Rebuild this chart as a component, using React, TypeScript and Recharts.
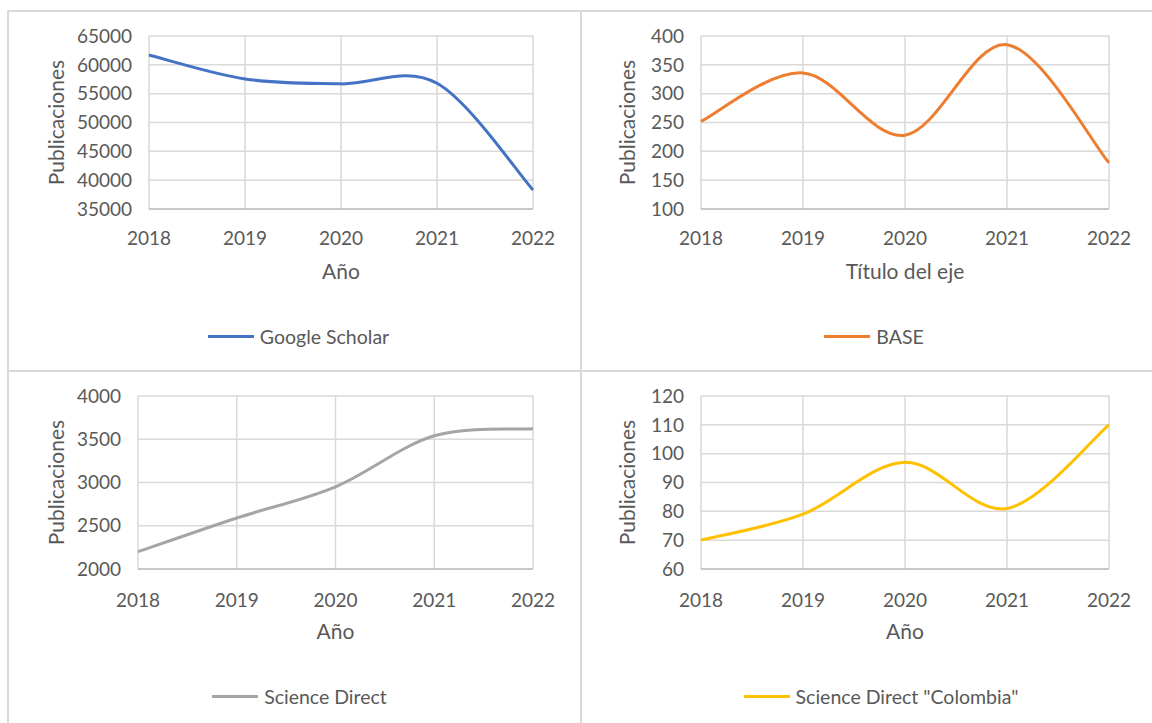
import React from 'react';
import { LineChart, Line, XAxis, YAxis, CartesianGrid, Legend } from 'recharts';

const years = ['2018', '2019', '2020', '2021', '2022'];

const googleScholar = [61700, 57550, 56700, 56800, 38300];
const base = [252, 336, 228, 385, 180];
const scienceDirect = [2200, 2590, 2950, 3540, 3620];
const scienceDirectColombia = [70, 79, 97, 81, 110];

const googleTicks = [35000, 40000, 45000, 50000, 55000, 60000, 65000];
const baseTicks = [100, 150, 200, 250, 300, 350, 400];
const scienceTicks = [2000, 2500, 3000, 3500, 4000];
const colombiaTicks = [60, 70, 80, 90, 100, 110, 120];

const FONT = 'Lato, "Open Sans", sans-serif';
const TEXT = '#595959';
const GRID = '#d9d9d9';

// Excel "smoothed line" is a uniform Catmull-Rom spline
const excelSmooth = (context: any) => {
  let pts: [number, number][] = [];
  return {
    areaStart() {},
    areaEnd() {},
    lineStart() {
      pts = [];
    },
    lineEnd() {
      const n = pts.length;
      if (!n) return;
      context.moveTo(pts[0][0], pts[0][1]);
      for (let i = 0; i < n - 1; i++) {
        const p0 = pts[Math.max(i - 1, 0)];
        const p1 = pts[i];
        const p2 = pts[i + 1];
        const p3 = pts[Math.min(i + 2, n - 1)];
        context.bezierCurveTo(
          p1[0] + (p2[0] - p0[0]) / 6,
          p1[1] + (p2[1] - p0[1]) / 6,
          p2[0] - (p3[0] - p1[0]) / 6,
          p2[1] - (p3[1] - p1[1]) / 6,
          p2[0],
          p2[1]
        );
      }
    },
    point(x: number, y: number) {
      pts.push([x, y]);
    },
  };
};

interface PanelProps {
  values: number[];
  ticks: number[];
  name: string;
  color: string;
  xTitle: string;
  left: number;
  top: number;
  width: number;
  height: number;
  plotLeft: number;
  plotRight: number;
  yTitleX: number;
  legendShift: number;
  tickGap: number;
}

const Panel: React.FC<PanelProps> = ({
  values, ticks, name, color, xTitle, left, top, width, height,
  plotLeft, plotRight, yTitleX, legendShift, tickGap,
}) => {
  const data = years.map((year, i) => ({ year, value: values[i] }));
  // legend box ends 336px below the top of each panel
  const legendBottom = height - 336;
  return (
    <div
      style={{
        position: 'absolute', left, top, width, height,
        borderLeft: `2px solid ${GRID}`, borderTop: `2px solid ${GRID}`,
        boxSizing: 'border-box', background: '#fff',
      }}
    >
      <div style={{ position: 'absolute', left: -2, top: -2 }}>
        <LineChart
          width={width}
          height={height}
          data={data}
          margin={{ top: 26, right: width - plotRight, left: 0, bottom: legendBottom }}
        >
          <CartesianGrid stroke={GRID} strokeWidth={1.5} />
          <XAxis
            dataKey="year"
            height={height - legendBottom - 20 - 199}
            tickLine={false}
            tickMargin={tickGap}
            axisLine={{ stroke: '#bfbfbf', strokeWidth: 1.5 }}
            tick={{ fill: TEXT, fontSize: 19, fontFamily: FONT }}
            interval={0}
            label={{ value: xTitle, position: 'insideTop', offset: 55, fill: TEXT, fontSize: 21, fontFamily: FONT }}
          />
          <YAxis
            width={plotLeft}
            domain={[ticks[0], ticks[ticks.length - 1]]}
            ticks={ticks}
            interval={0}
            tickLine={false}
            axisLine={false}
            tickMargin={11}
            tick={{ fill: TEXT, fontSize: 19, fontFamily: FONT }}
            label={{
              value: 'Publicaciones', angle: -90, position: 'insideLeft', offset: yTitleX,
              fill: TEXT, fontSize: 21, fontFamily: FONT, style: { textAnchor: 'middle' },
            }}
          />
          <Legend
            verticalAlign="bottom"
            wrapperStyle={{ left: 0, width }}
            content={() => (
              <div
                style={{
                  height: 20, display: 'flex', justifyContent: 'center', alignItems: 'center',
                  paddingLeft: legendShift * 2, fontFamily: FONT, fontSize: 19.5, color: TEXT,
                }}
              >
                <span style={{ display: 'inline-block', width: 46, height: 3, background: color, marginRight: 6 }} />
                <span>{name}</span>
              </div>
            )}
          />
          <Line
            dataKey="value"
            name={name}
            type={excelSmooth as any}
            stroke={color}
            strokeWidth={3}
            dot={false}
            activeDot={false}
            isAnimationActive={false}
          />
        </LineChart>
      </div>
    </div>
  );
};

export default function App() {
  return (
    <div style={{ position: 'fixed', left: 0, top: 0, width: 1152, height: 723, overflow: 'hidden', background: '#fff' }}>
      <Panel
        values={googleScholar} ticks={googleTicks} name="Google Scholar" color="#4472C4" xTitle="Año"
        left={7} top={10} width={573} height={360} plotLeft={142} plotRight={526} yTitleX={50}
        legendShift={5} tickGap={17}
      />
      <Panel
        values={base} ticks={baseTicks} name="BASE" color="#ED7D31" xTitle="Título del eje"
        left={580} top={10} width={572} height={360} plotLeft={121} plotRight={529} yTitleX={48}
        legendShift={8} tickGap={17}
      />
      <Panel
        values={scienceDirect} ticks={scienceTicks} name="Science Direct" color="#A5A5A5" xTitle="Año"
        left={7} top={370} width={573} height={353} plotLeft={131} plotRight={526} yTitleX={50}
        legendShift={6} tickGap={19}
      />
      <Panel
        values={scienceDirectColombia} ticks={colombiaTicks} name={'Science Direct "Colombia"'} color="#FFC000"
        xTitle="Año" left={580} top={370} width={572} height={353} plotLeft={121} plotRight={529} yTitleX={48}
        legendShift={15} tickGap={19}
      />
    </div>
  );
}
